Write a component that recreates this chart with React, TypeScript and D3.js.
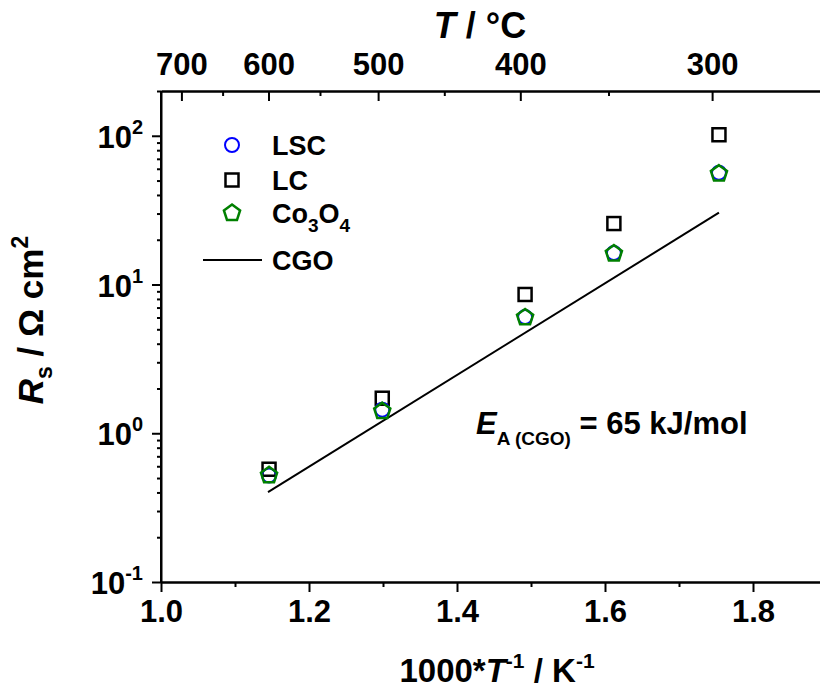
import { useEffect, useRef } from "react";
import * as d3 from "d3";

// 1000/T values (K^-1) for the five measurement temperatures
const invT = [1.146, 1.299, 1.492, 1.612, 1.754];
const lscValues = [0.52, 1.44, 6.05, 16.3, 56.5];
const lcValues = [0.573, 1.72, 8.57, 25.7, 101.6];
const co3o4Values = [0.53, 1.43, 6.1, 16.4, 56.5];
// CGO fit line end points
const cgoX = [1.1446, 1.754];
const cgoY = [0.402, 30.4];

const xMajor = [1.0, 1.2, 1.4, 1.6, 1.8];
const xMinor = [1.1, 1.3, 1.5, 1.7];
const tempMajor = [700, 600, 500, 400, 300];
const tempMinor = [650, 550, 450, 350];
const yMajor = [0.1, 1, 10, 100];
const yExp = ["-1", "0", "1", "2"];

const FONT = "'Liberation Sans', Arial, sans-serif";
const TICK_FS = 31;

function pentagon(r: number) {
  const pts: [number, number][] = d3.range(5).map((i) => {
    const a = -Math.PI / 2 + (i * 2 * Math.PI) / 5;
    return [r * Math.cos(a), r * Math.sin(a) + 1];
  });
  return "M" + pts.map((p) => p.join(",")).join("L") + "Z";
}

function App() {
  const svgRef = useRef<SVGSVGElement>(null);

  useEffect(() => {
    const svg = d3.select(svgRef.current);
    svg.selectAll("*").remove();

    const left = 161, right = 827, top = 91, bottom = 582;
    const x = d3.scaleLinear().domain([1.0, 1.9]).range([left, right]);
    const y = d3.scaleLog().domain([0.1, 200]).range([bottom, top]);
    const invTemp = (t: number) => 1000 / (t + 273.15);

    const styleAxis = (g: any) => {
      g.select(".domain").attr("stroke-width", 2);
      g.selectAll(".tick line").attr("stroke-width", 2);
      g.selectAll("text")
        .attr("font-family", FONT)
        .attr("font-weight", "bold")
        .attr("font-size", TICK_FS)
        .attr("fill", "#000");
    };

    // bottom axis
    svg.append("g")
      .attr("transform", `translate(0,${bottom})`)
      .call(d3.axisBottom(x).tickValues(xMinor).tickSize(5).tickSizeOuter(0).tickFormat(() => ""))
      .call(styleAxis);
    svg.append("g")
      .attr("transform", `translate(0,${bottom})`)
      .call(d3.axisBottom(x).tickValues(xMajor).tickSize(10).tickSizeOuter(0).tickPadding(8).tickFormat(d3.format(".1f")))
      .call(styleAxis);

    // top axis in °C
    svg.append("g")
      .attr("transform", `translate(0,${top})`)
      .call(d3.axisTop(x).tickValues(tempMinor.map(invTemp)).tickSize(-5).tickSizeOuter(0).tickFormat(() => ""))
      .call(styleAxis);
    svg.append("g")
      .attr("transform", `translate(0,${top})`)
      .call(
        d3.axisTop(x)
          .tickValues(tempMajor.map(invTemp))
          .tickSize(-10)
          .tickSizeOuter(0)
          .tickPadding(16)
          .tickFormat((d: any) => String(Math.round(1000 / d - 273.15)))
      )
      .call(styleAxis);

    // left axis, log
    const minors: number[] = [];
    yMajor.forEach((m) => d3.range(2, 10).forEach((k) => { if (m * k <= 200) minors.push(m * k); }));
    svg.append("g")
      .attr("transform", `translate(${left},0)`)
      .call(d3.axisLeft(y).tickValues(minors).tickSize(4).tickSizeOuter(0).tickFormat(() => ""))
      .call(styleAxis);
    const yAx = svg.append("g")
      .attr("transform", `translate(${left},0)`)
      .call(d3.axisLeft(y).tickValues(yMajor).tickSize(9).tickSizeOuter(0).tickFormat(() => ""))
      .call(styleAxis);
    yAx.select(".domain").attr("d", `M0,${bottom}V${top}`);

    yMajor.forEach((v, i) => {
      const t = svg.append("text")
        .attr("x", 143)
        .attr("y", y(v) + 12)
        .attr("text-anchor", "end")
        .attr("font-family", FONT)
        .attr("font-weight", "bold")
        .attr("font-size", TICK_FS);
      t.append("tspan").text("10");
      t.append("tspan").attr("font-size", 20).attr("dy", -14).text(yExp[i]);
    });

    // data
    svg.append("path")
      .datum(cgoX.map((d, i) => [d, cgoY[i]] as [number, number]))
      .attr("d", d3.line<[number, number]>().x((d) => x(d[0])).y((d) => y(d[1])))
      .attr("fill", "none")
      .attr("stroke", "#000")
      .attr("stroke-width", 2);

    svg.append("g").selectAll("rect")
      .data(invT.map((d, i) => [d, lcValues[i]]))
      .join("rect")
      .attr("x", (d) => x(d[0]) - 6.5)
      .attr("y", (d) => y(d[1]) - 6.5)
      .attr("width", 13)
      .attr("height", 13)
      .attr("fill", "none")
      .attr("stroke", "#000")
      .attr("stroke-width", 2.5);

    svg.append("g").selectAll("circle")
      .data(invT.map((d, i) => [d, lscValues[i]]))
      .join("circle")
      .attr("cx", (d) => x(d[0]))
      .attr("cy", (d) => y(d[1]))
      .attr("r", 7)
      .attr("fill", "none")
      .attr("stroke", "#0000ff")
      .attr("stroke-width", 2);

    svg.append("g").selectAll("path")
      .data(invT.map((d, i) => [d, co3o4Values[i]]))
      .join("path")
      .attr("transform", (d) => `translate(${x(d[0])},${y(d[1])})`)
      .attr("d", pentagon(8.5))
      .attr("fill", "none")
      .attr("stroke", "#008000")
      .attr("stroke-width", 2.5);

    // legend
    const lg = svg.append("g").attr("font-family", FONT).attr("font-weight", "bold").attr("font-size", 27);
    lg.append("circle").attr("cx", 232).attr("cy", 145).attr("r", 7)
      .attr("fill", "none").attr("stroke", "#0000ff").attr("stroke-width", 2);
    lg.append("rect").attr("x", 225.5).attr("y", 173.5).attr("width", 13).attr("height", 13)
      .attr("fill", "none").attr("stroke", "#000").attr("stroke-width", 2.5);
    lg.append("path").attr("transform", "translate(232,212)").attr("d", pentagon(8.5))
      .attr("fill", "none").attr("stroke", "#008000").attr("stroke-width", 2.5);
    lg.append("line").attr("x1", 203).attr("x2", 262).attr("y1", 260).attr("y2", 260)
      .attr("stroke", "#000").attr("stroke-width", 2);
    lg.append("text").attr("x", 272).attr("y", 155).text("LSC");
    lg.append("text").attr("x", 272).attr("y", 190).text("LC");
    const co = lg.append("text").attr("x", 272).attr("y", 223);
    co.append("tspan").text("Co");
    co.append("tspan").attr("font-size", 19).attr("dy", 9).text("3");
    co.append("tspan").attr("dy", -9).text("O");
    co.append("tspan").attr("font-size", 19).attr("dy", 9).text("4");
    lg.append("text").attr("x", 272).attr("y", 270).text("CGO");

    // annotation
    const ann = svg.append("text").attr("x", 476).attr("y", 434)
      .attr("font-family", FONT).attr("font-weight", "bold").attr("font-size", 31);
    ann.append("tspan").attr("font-style", "italic").text("E");
    ann.append("tspan").attr("font-size", 19).attr("dy", 11).text("A (CGO)");
    ann.append("tspan").attr("dy", -11).text(" = 65 kJ/mol");

    // axis titles
    const xt = svg.append("text").attr("x", 497).attr("y", 682).attr("text-anchor", "middle")
      .attr("font-family", FONT).attr("font-weight", "bold").attr("font-size", 33);
    xt.append("tspan").text("1000*");
    xt.append("tspan").attr("font-style", "italic").text("T");
    xt.append("tspan").attr("font-size", 21).attr("dy", -14).text("-1");
    xt.append("tspan").attr("dy", 14).text(" / K");
    xt.append("tspan").attr("font-size", 21).attr("dy", -14).text("-1");

    const tt = svg.append("text").attr("x", 480).attr("y", 38).attr("text-anchor", "middle")
      .attr("font-family", FONT).attr("font-weight", "bold").attr("font-size", 36);
    tt.append("tspan").attr("font-style", "italic").text("T");
    tt.append("tspan").text(" / °C");

    const yt = svg.append("text").attr("transform", "translate(43,320) rotate(-90)").attr("text-anchor", "middle")
      .attr("font-family", FONT).attr("font-weight", "bold").attr("font-size", 35);
    yt.append("tspan").attr("font-style", "italic").text("R");
    yt.append("tspan").attr("font-size", 23).attr("dy", 9).text("s");
    yt.append("tspan").attr("dy", -9).text(" / Ω cm");
    yt.append("tspan").attr("font-size", 23).attr("dy", -15).text("2");
  }, []);

  return (
    <svg
      ref={svgRef}
      width={820}
      height={694}
      style={{ position: "absolute", left: 0, top: 0, background: "#fff" }}
    />
  );
}

export default App;
